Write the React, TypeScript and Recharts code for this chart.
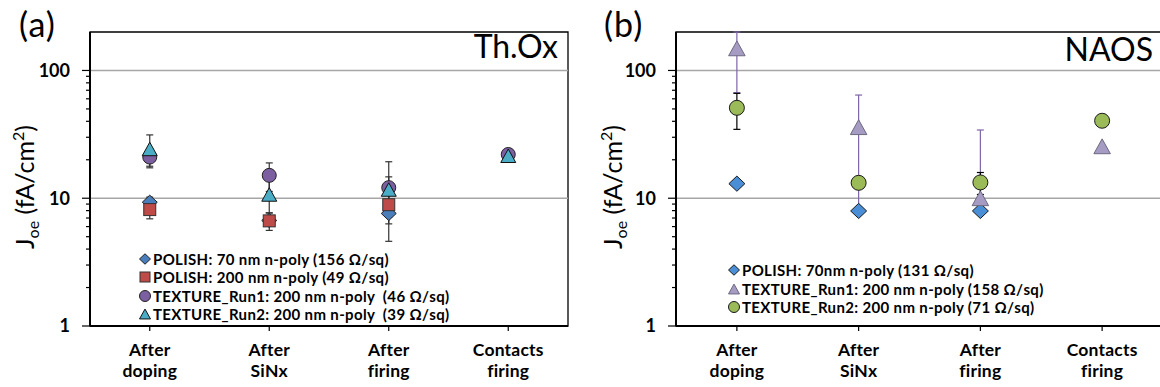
import React from 'react';
import { ComposedChart, Line, XAxis, YAxis, ErrorBar, ReferenceLine, ReferenceArea, Legend } from 'recharts';

const CATEGORIES = ['After doping', 'After SiNx', 'After firing', 'Contacts firing'];
const CAT_TICKS = [0, 1, 2, 3];
const Y_TICKS = [1, 2, 3, 4, 5, 6, 7, 8, 9, 10, 20, 30, 40, 50, 60, 70, 80, 90, 100];
const Y_LABELS = [1, 10, 100];

// (a) Th.Ox
const THOX_POLISH70 = [9.3, 6.7, 7.6, null];
const THOX_POLISH70_ERR = [[0.9, 0.9], [0.6, 0.6], [0.5, 0.5], null];
const THOX_POLISH200 = [8.15, 6.65, 8.9, null];
const THOX_POLISH200_ERR = [[1.25, 1.25], [1.05, 1.0], [2.6, 2.6], null];
const THOX_RUN1 = [21, 15.1, 12.1, 22];
const THOX_RUN1_ERR = [[3.2, 3.2], [3.8, 3.8], [7.5, 7.2], null];
const THOX_RUN2 = [24.3, 10.7, 11.7, 21.5];
const THOX_RUN2_ERR = [[7, 7], [3, 3], [3, 3], null];

// (b) NAOS  (Run1 upper bar at "After doping" runs off the top of the plot)
const NAOS_POLISH70 = [13.0, 7.95, 7.95, null];
const NAOS_RUN1 = [149, 36, 10, 25.5];
const NAOS_RUN1_ERR = [[82, 51], [27.5, 28.2], [1.8, 24.2], null];
const NAOS_RUN2 = [51, 13.2, 13.3, 40.4];
const NAOS_RUN2_ERR = [[16.4, 15.2], null, [2.6, 2.6], null];

const thoxData = CATEGORIES.map((cat, i) => ({
  i,
  cat,
  p70: THOX_POLISH70[i],
  p70Err: THOX_POLISH70_ERR[i],
  p200: THOX_POLISH200[i],
  p200Err: THOX_POLISH200_ERR[i],
  r1: THOX_RUN1[i],
  r1Err: THOX_RUN1_ERR[i],
  r2: THOX_RUN2[i],
  r2Err: THOX_RUN2_ERR[i],
}));

const naosData = CATEGORIES.map((cat, i) => ({
  i,
  cat,
  p70: NAOS_POLISH70[i],
  r1: NAOS_RUN1[i],
  r1Err: NAOS_RUN1_ERR[i],
  r2: NAOS_RUN2[i],
  r2Err: NAOS_RUN2_ERR[i],
}));

type Shape = 'diamond' | 'square' | 'circle' | 'triangle';
type Series = {
  key: string;
  err?: string;
  name: string;
  shape: Shape;
  fill: string;
  stroke: string;
  size: number;
  errColor?: string;
};

const THOX_SERIES: Series[] = [
  { key: 'p70', err: 'p70Err', name: 'POLISH: 70 nm n-poly (156 Ω/sq)', shape: 'diamond', fill: '#4a7ebb', stroke: '#1f1f1f', size: 15, errColor: '#333' },
  { key: 'p200', err: 'p200Err', name: 'POLISH: 200 nm n-poly (49 Ω/sq)', shape: 'square', fill: '#be4b48', stroke: '#333', size: 12, errColor: '#333' },
  { key: 'r1', err: 'r1Err', name: 'TEXTURE_Run1: 200 nm n-poly  (46 Ω/sq)', shape: 'circle', fill: '#7b5fa0', stroke: '#222', size: 14, errColor: '#333' },
  { key: 'r2', err: 'r2Err', name: 'TEXTURE_Run2: 200 nm n-poly  (39 Ω/sq)', shape: 'triangle', fill: '#4bacc6', stroke: '#111', size: 15, errColor: '#333' },
];

const NAOS_SERIES: Series[] = [
  { key: 'p70', name: 'POLISH: 70nm n-poly (131 Ω/sq)', shape: 'diamond', fill: '#4a8ed6', stroke: '#1a1a1a', size: 16 },
  { key: 'r1', err: 'r1Err', name: 'TEXTURE_Run1: 200 nm n-poly (158 Ω/sq)', shape: 'triangle', fill: '#a59bc3', stroke: '#6d6a80', size: 16.5, errColor: '#7e65a8' },
  { key: 'r2', err: 'r2Err', name: 'TEXTURE_Run2: 200 nm n-poly (71 Ω/sq)', shape: 'circle', fill: '#9bbb59', stroke: '#1a1a1a', size: 15, errColor: '#000' },
];

const FONT = "Lato, 'Open Sans', sans-serif";

function MarkerShape({ shape, cx, cy, size, fill, stroke }: { shape: Shape; cx: number; cy: number; size: number; fill: string; stroke: string }) {
  const h = size / 2;
  const common = { fill, stroke, strokeWidth: 1 };
  if (shape === 'diamond') {
    const v = h * 0.95;
    return <polygon points={`${cx},${cy - v} ${cx + h},${cy} ${cx},${cy + v} ${cx - h},${cy}`} {...common} />;
  }
  if (shape === 'square') return <rect x={cx - h} y={cy - h} width={size} height={size} {...common} />;
  if (shape === 'circle') return <circle cx={cx} cy={cy} r={h} {...common} />;
  const th = size * 0.9;
  return <polygon points={`${cx},${cy - th / 2} ${cx + h},${cy + th / 2} ${cx - h},${cy + th / 2}`} {...common} />;
}

function LogTick(props: any) {
  const { x, y, payload } = props;
  const v = payload.value;
  const major = Y_LABELS.includes(v);
  return (
    <g>
      <line x1={x - (major ? 8 : 4)} x2={x} y1={y} y2={y} stroke="#000" strokeWidth={1.2} />
      {major && (
        <text x={x - 20} y={y} dy="0.36em" textAnchor="end" fontFamily={FONT} fontWeight={700} fontSize={18} fill="#000">
          {v}
        </text>
      )}
    </g>
  );
}

function CatTick(props: any) {
  const { x, y, payload } = props;
  const label = CATEGORIES[payload.value] ?? '';
  const sp = label.indexOf(' ');
  return (
    <g>
      <text x={x} y={y + 25} textAnchor="middle" fontFamily={FONT} fontWeight={700} fontSize={17.5} letterSpacing={0.2} fill="#000">
        {label.slice(0, sp)}
      </text>
      <text x={x} y={y + 46} textAnchor="middle" fontFamily={FONT} fontWeight={700} fontSize={17.5} letterSpacing={0.2} fill="#000">
        {label.slice(sp + 1)}
      </text>
    </g>
  );
}

function LegendBox({ items, lineHeight }: { items: Series[]; lineHeight: number }) {
  return (
    <div style={{ fontFamily: FONT, fontWeight: 700, fontSize: 15, letterSpacing: 0.35, color: '#000' }}>
      {items.map((s) => (
        <div key={s.key} style={{ display: 'flex', alignItems: 'center', height: lineHeight, whiteSpace: 'pre' }}>
          <svg width={12} height={12} style={{ overflow: 'visible' }}>
            <MarkerShape shape={s.shape} cx={6} cy={6} size={s.shape === 'square' ? 10 : 11} fill={s.fill} stroke={s.stroke} />
          </svg>
          <span style={{ marginLeft: 2 }}>{s.name}</span>
        </div>
      ))}
    </div>
  );
}

function Panel({
  data,
  series,
  width,
  yAxisWidth,
  right,
  legendLeft,
  legendTop,
  legendLine,
}: {
  data: any[];
  series: Series[];
  width: number;
  yAxisWidth: number;
  right: number;
  legendLeft: number;
  legendTop: number;
  legendLine: number;
}) {
  return (
    <ComposedChart width={width} height={387} data={data} margin={{ top: 32, right, bottom: 0, left: 0 }}>
      <ReferenceLine y={10} stroke="#a6a6a6" strokeWidth={1.5} />
      <ReferenceLine y={100} stroke="#a6a6a6" strokeWidth={1.5} />
      <XAxis
        type="number"
        dataKey="i"
        domain={[-0.5, 3.5]}
        ticks={CAT_TICKS}
        interval={0}
        allowDataOverflow
        height={61}
        tickSize={5}
        tickMargin={0}
        tickLine={{ stroke: '#000', strokeWidth: 1.2 }}
        axisLine={{ stroke: '#000', strokeWidth: 2 }}
        tick={(p: any) => <CatTick {...p} />}
      />
      <YAxis
        type="number"
        scale="log"
        domain={[1, 200]}
        allowDataOverflow
        ticks={Y_TICKS}
        interval={0}
        width={yAxisWidth}
        tickSize={0}
        tickMargin={0}
        tickLine={false}
        axisLine={{ stroke: '#000', strokeWidth: 2 }}
        tick={(p: any) => <LogTick {...p} />}
      />
      {series
        .filter((s) => s.err)
        .map((s) => (
          <Line
            key={`e-${s.key}`}
            dataKey={s.key}
            stroke="none"
            dot={false}
            activeDot={false}
            legendType="none"
            isAnimationActive={false}
          >
            <ErrorBar dataKey={s.err as string} width={3.5} stroke={s.errColor} strokeWidth={1.2} direction="y" />
          </Line>
        ))}
      <ReferenceArea x1={-0.5} x2={3.5} y1={1} y2={200} fill="none" stroke="#000" strokeWidth={1.3} />
      {series.map((s) => (
        <Line
          key={s.key}
          dataKey={s.key}
          name={s.name}
          stroke="none"
          activeDot={false}
          isAnimationActive={false}
          dot={(p: any) => {
            if (p.cx == null || p.cy == null || p.value == null) return <g key={`d-${s.key}-${p.index}`} />;
            return (
              <MarkerShape key={`d-${s.key}-${p.index}`} shape={s.shape} cx={p.cx} cy={p.cy} size={s.size} fill={s.fill} stroke={s.stroke} />
            );
          }}
        />
      ))}
      <Legend
        layout="vertical"
        align="center"
        verticalAlign="middle"
        wrapperStyle={{ left: legendLeft, top: legendTop, width: 'auto' }}
        content={() => <LegendBox items={series} lineHeight={legendLine} />}
      />
    </ComposedChart>
  );
}

function YTitle({ x, y }: { x: number; y: number }) {
  return (
    <text transform={`translate(${x},${y}) rotate(-90)`} textAnchor="middle" fontFamily={FONT} fontSize={25} fill="#000">
      J
      <tspan fontSize={16} dy={5}>oe</tspan>
      <tspan dy={-5}> (fA/cm</tspan>
      <tspan fontSize={16} dy={-10}>2</tspan>
      <tspan dy={10}>)</tspan>
    </text>
  );
}

export default function App() {
  return (
    <div style={{ position: 'absolute', left: 0, top: 0, width: 1160, height: 387, overflow: 'hidden', background: '#fff', fontFamily: FONT }}>
      <div style={{ position: 'absolute', left: 0, top: 0 }}>
        <Panel data={thoxData} series={THOX_SERIES} width={580} yAxisWidth={90} right={12} legendLeft={139} legendTop={250} legendLine={18.3} />
      </div>
      <div style={{ position: 'absolute', left: 580, top: 0 }}>
        <Panel data={naosData} series={NAOS_SERIES} width={583} yAxisWidth={96} right={0} legendLeft={148} legendTop={261} legendLine={18.5} />
      </div>
      <svg width={1160} height={387} style={{ position: 'absolute', left: 0, top: 0, pointerEvents: 'none' }}>
        <text x={19} y={37} fontFamily={FONT} fontSize={34} letterSpacing={1} fill="#000">(a)</text>
        <text x={604} y={37} fontFamily={FONT} fontSize={34} letterSpacing={1} fill="#000">(b)</text>
        <text x={558} y={58} textAnchor="end" fontFamily={FONT} fontSize={32} fill="#000">Th.Ox</text>
        <text x={1153} y={61} textAnchor="end" fontFamily={FONT} fontSize={32} fill="#000">NAOS</text>
        <YTitle x={34} y={187} />
        <YTitle x={622} y={187} />
      </svg>
    </div>
  );
}
